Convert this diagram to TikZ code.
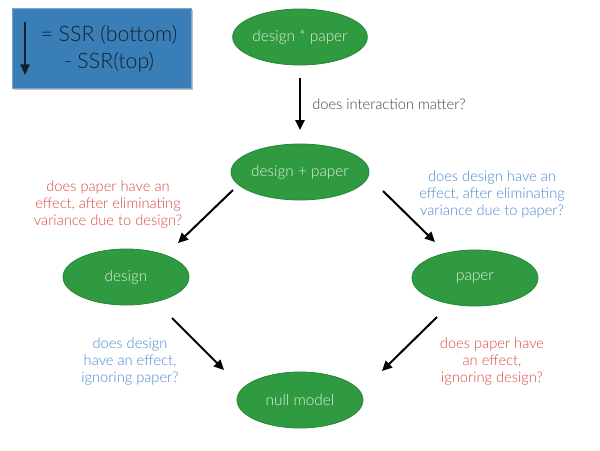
\documentclass[tikz,border=0pt]{standalone}
\usepackage{fontspec}
\setmainfont{Lato}[UprightFont={* Light}]
\usetikzlibrary{shapes.geometric,arrows.meta}
\definecolor{ellfill}{HTML}{2F9A40}
\definecolor{elldraw}{HTML}{25873A}
\definecolor{elltext}{HTML}{E2EFDF}
\definecolor{qred}{HTML}{D8483E}
\definecolor{qblue}{HTML}{4A84D4}
\definecolor{boxfill}{HTML}{3A7EB8}
\definecolor{boxdraw}{HTML}{7FA6C8}
\definecolor{boxtext}{HTML}{15202C}
\tikzset{
  model/.style={ellipse, fill=ellfill, draw=elldraw, line width=0.6pt,
    minimum width=94.5pt, minimum height=42pt, inner sep=0pt,
    text=elltext, font=\fontsize{11.5}{13}\selectfont},
  question/.style={align=center, font=\fontsize{11}{12.75}\selectfont, inner sep=0pt},
  arr/.style={-{Triangle[length=7.5pt,width=7pt]}, line width=1.5pt, black},
}
\begin{document}
\begin{tikzpicture}[x=0.75pt,y=-0.75pt]
\useasboundingbox (0,0) rectangle (600,450);
% legend box
\fill[black!25] (14,10) rectangle (193,90);
\node[draw=boxdraw, fill=boxfill, line width=0.6pt, minimum width=134.25pt, minimum height=60pt, inner sep=0pt] (legend) at (101.5,48) {};
\node[text=boxtext, align=center, font=\fontsize{16}{20.25}\selectfont, inner sep=0pt] (legendtext) at (109,48.5) {= SSR (bottom)\\- SSR(top)};
\draw[-{Triangle[length=8pt,width=7pt]}, line width=1.2pt, boxtext] ([shift={(-76.5,-26)}]legend.center) -- ([shift={(-76.5,27)}]legend.center);

% models
\node[model] (dstar) at (300,37) {design * paper};
\node[model] (dplus) at (300,172) {design + paper};
\node[model] (design) at (126,277) {design};
\node[model] (paper) at (475,278) {paper};
\node[model] (null) at (300,400) {null model};

% arrows
\draw[arr] ([shift={(0,41)}]dstar.center) -- ([shift={(0,-42)}]dplus.center);
\draw[arr] ([shift={(-67,18)}]dplus.center) -- ([shift={(52,-34)}]design.center);
\draw[arr] ([shift={(83,19)}]dplus.center) -- ([shift={(-40,-36)}]paper.center);
\draw[arr] ([shift={(46,41)}]design.center) -- ([shift={(-76,-30)}]null.center);
\draw[arr] ([shift={(-38,39)}]paper.center) -- ([shift={(82,-29)}]null.center);

% labels
\node[question, text=black!75, anchor=west] (q0) at (312,104) {does interaction matter?};
\node[question, text=qred] (q1) at (108,205) {does paper have an\\effect, after eliminating\\variance due to design?};
\node[question, text=qblue] (q2) at (492,194) {does design have an\\effect, after eliminating\\variance due to paper?};
\node[question, text=qblue] (q3) at (130,362) {does design\\have an effect,\\ignoring paper?};
\node[question, text=qred] (q4) at (492,362) {does paper have\\an effect,\\ignoring design?};
\end{tikzpicture}
\end{document}
